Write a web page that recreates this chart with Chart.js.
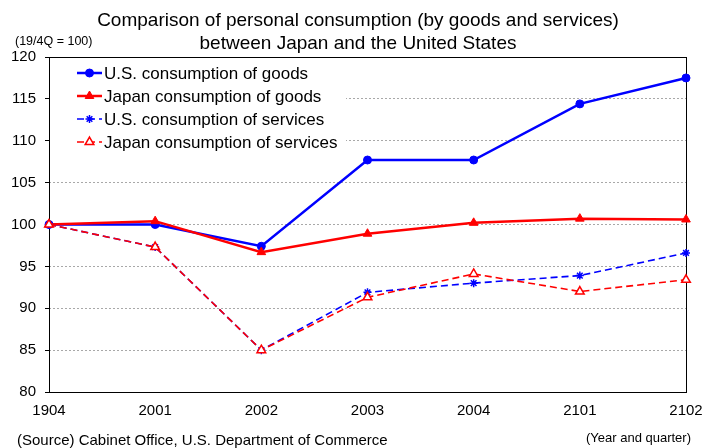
<!DOCTYPE html>
<html>
<head>
<meta charset="utf-8">
<script src="https://cdn.jsdelivr.net/npm/chart.js@4"></script>
<style>
  html, body { margin: 0; padding: 0; background: #fff; }
  canvas { display: block; }
</style>
</head>
<body>
<canvas id="consumptionChart" width="717" height="448"></canvas>
<script>
// Index, 2019 Q4 = 100
const quarters = ['1904', '2001', '2002', '2003', '2004', '2101', '2102'];
const usGoods = [100, 100.0, 97.4, 107.7, 107.7, 114.4, 117.5];
const japanGoods = [100, 100.4, 96.7, 98.9, 100.2, 100.7, 100.6];
const usServices = [100, 97.3, 85.0, 91.9, 93.0, 93.9, 96.6];
const japanServices = [100, 97.3, 85.0, 91.3, 94.1, 92.0, 93.4];
const yTicks = [80, 85, 90, 95, 100, 105, 110, 115, 120];

const FONT = '"Liberation Sans", Arial, sans-serif';

// Frame around the plot plus a white panel behind the legend
const framePlugin = {
    id: 'frame',
    beforeDatasetsDraw(chart) {
        const { ctx, chartArea: a } = chart;
        ctx.save();
        ctx.fillStyle = '#fff';
        ctx.fillRect(a.left + 1, a.top + 1, 296, 94);
        ctx.strokeStyle = '#000';
        ctx.lineWidth = 1;
        ctx.strokeRect(Math.round(a.left) + 0.5, Math.round(a.top) + 0.5,
            Math.round(a.right - a.left), Math.round(a.bottom - a.top));
        ctx.restore();
    }
};

// Legend drawn inside the plot, top-left
const insideLegend = {
    id: 'insideLegend',
    afterDatasetsDraw(chart) {
        const ctx = chart.ctx;
        ctx.save();
        chart.data.datasets.forEach((ds, i) => {
            const y = 73 + i * 23;
            ctx.strokeStyle = ds.borderColor;
            ctx.lineWidth = ds.borderWidth;
            ctx.setLineDash(ds.borderDash || []);
            ctx.beginPath();
            ctx.moveTo(77, y);
            ctx.lineTo(102, y);
            ctx.stroke();
            ctx.setLineDash([]);
            ctx.fillStyle = ds.pointBackgroundColor;
            ctx.strokeStyle = ds.borderColor;
            ctx.lineWidth = ds.pointBorderWidth;
            Chart.helpers.drawPoint(ctx, {
                pointStyle: ds.pointStyle,
                radius: ds.pointRadius,
                rotation: 0,
                borderWidth: ds.pointBorderWidth
            }, 89.5, y);
            ctx.fillStyle = '#000';
            ctx.font = '17px ' + FONT;
            ctx.textAlign = 'left';
            ctx.textBaseline = 'middle';
            ctx.fillText(ds.label, 104, y + 1);
        });
        ctx.restore();
    }
};

// Titles, unit note, source and axis note
const textPlugin = {
    id: 'texts',
    afterDraw(chart) {
        const ctx = chart.ctx;
        ctx.save();
        ctx.fillStyle = '#000';
        ctx.textBaseline = 'middle';
        ctx.textAlign = 'center';
        ctx.font = '19px ' + FONT;
        ctx.fillText('Comparison of personal consumption (by goods and services)', 358, 21);
        ctx.fillText('between Japan and the United States', 358, 44);
        ctx.textAlign = 'left';
        ctx.font = '12.5px ' + FONT;
        ctx.fillText('(19/4Q = 100)', 15, 42);
        ctx.font = '15px ' + FONT;
        ctx.fillText('(Source) Cabinet Office, U.S. Department of Commerce', 17, 441);
        ctx.textAlign = 'right';
        ctx.font = '13px ' + FONT;
        ctx.fillText('(Year and quarter)', 691, 438);
        ctx.restore();
    }
};

new Chart(document.getElementById('consumptionChart'), {
    type: 'line',
    data: {
        labels: quarters,
        datasets: [
            {
                label: 'U.S. consumption of goods',
                data: usGoods,
                borderColor: '#0000ff',
                backgroundColor: '#0000ff',
                pointBackgroundColor: '#0000ff',
                borderWidth: 2.5,
                pointStyle: 'circle',
                pointRadius: 4,
                pointBorderWidth: 1,
                order: 3
            },
            {
                label: 'Japan consumption of goods',
                data: japanGoods,
                borderColor: '#ff0000',
                backgroundColor: '#ff0000',
                pointBackgroundColor: '#ff0000',
                borderWidth: 2.5,
                pointStyle: 'triangle',
                pointRadius: 5,
                pointBorderWidth: 1,
                order: 2
            },
            {
                label: 'U.S. consumption of services',
                data: usServices,
                borderColor: '#0000ff',
                backgroundColor: '#0000ff',
                pointBackgroundColor: '#0000ff',
                borderWidth: 1.6,
                borderDash: [7, 4],
                pointStyle: 'star',
                pointRadius: 4,
                pointBorderWidth: 1.5,
                order: 1
            },
            {
                label: 'Japan consumption of services',
                data: japanServices,
                borderColor: '#ff0000',
                backgroundColor: '#ffffff',
                pointBackgroundColor: '#ffffff',
                borderWidth: 1.6,
                borderDash: [7, 4],
                pointStyle: 'triangle',
                pointRadius: 5,
                pointBorderWidth: 1.5,
                order: 0
            }
        ]
    },
    options: {
        responsive: false,
        animation: false,
        clip: false,
        layout: { padding: { left: 0, top: 57, right: 31, bottom: 0 } },
        elements: { line: { tension: 0 } },
        plugins: {
            legend: { display: false },
            title: { display: false },
            tooltip: { enabled: false }
        },
        scales: {
            x: {
                offset: false,
                grid: { display: false, drawTicks: false },
                border: { display: false },
                ticks: {
                    color: '#000',
                    font: { family: FONT, size: 15 },
                    padding: 10,
                    autoSkip: false,
                    maxRotation: 0
                },
                afterFit(scale) { scale.height = 56; }
            },
            y: {
                min: 80,
                max: 120,
                afterBuildTicks(scale) {
                    scale.ticks = yTicks.map(v => ({ value: v }));
                },
                grid: {
                    color: ctx => (ctx.tick && (ctx.tick.value === 80 || ctx.tick.value === 120)) ? 'rgba(0,0,0,0)' : '#a8a8a8',
                    tickColor: '#000',
                    tickLength: 4,
                    lineWidth: 1
                },
                border: { display: false, dash: [2, 2] },
                ticks: {
                    color: '#000',
                    font: { family: FONT, size: 15 },
                    padding: 9
                },
                afterFit(scale) { scale.width = 49; }
            }
        }
    },
    plugins: [framePlugin, insideLegend, textPlugin]
});
</script>
</body>
</html>
